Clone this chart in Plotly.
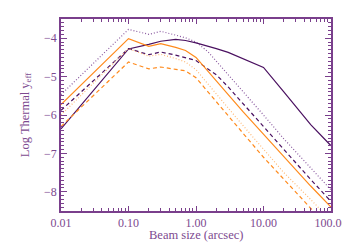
import plotly.graph_objects as go

beam = [0.01, 0.1, 0.2, 0.3, 0.5, 0.7, 1.0, 1.5, 2, 3, 5, 10, 20, 50, 100]

purple_solid = [-6.36, -4.28, -4.16, -4.08, -4.03, -4.06, -4.12, -4.2, -4.27, -4.37, -4.53, -4.76, -5.4, -6.25, -6.8]
purple_dotted = [-5.47, -3.77, -3.9, -3.82, -3.92, -3.99, -4.1, -4.35, -4.6, -4.95, -5.4, -6.0, -6.62, -7.38, -7.95]
purple_dashed = [-5.88, -4.27, -4.43, -4.36, -4.44, -4.5, -4.58, -4.8, -4.95, -5.27, -5.71, -6.3, -6.92, -7.68, -8.25]
orange_solid = [-5.73, -4.01, -4.21, -4.14, -4.24, -4.32, -4.5, -4.85, -5.12, -5.47, -5.92, -6.5, -7.1, -7.85, -8.4]
peach_dotted = [-6.0, -4.27, -4.47, -4.42, -4.53, -4.62, -4.82, -5.18, -5.45, -5.82, -6.28, -6.9, -7.5, -8.2, -8.75]
orange_dashed = [-6.3, -4.62, -4.8, -4.75, -4.81, -4.85, -5.03, -5.4, -5.65, -6.02, -6.48, -7.1, -7.68, -8.44, -9.0]

x_tickvals = [0.01, 0.1, 1, 10, 100]
x_ticktext = ["0.01", "0.10", "1.00", "10.00", "100.00"]
y_tickvals = [-8, -7, -6, -5, -4]
y_ticktext = ["\u22128", "\u22127", "\u22126", "\u22125", "\u22124"]
x_title = "Beam size (arcsec)"
y_title = "Log Thermal y<sub>eff</sub>"

AX = "#7a3f8c"
TXT = "#7d4a90"
DARK = "#4a1060"
LPURP = "#8a5aa0"
ORANGE = "#ff8a1c"
PEACH = "#ffbb7a"

series = [
    (purple_dotted, LPURP, "1px,2px"),
    (purple_solid, DARK, "solid"),
    (purple_dashed, DARK, "4px,3px"),
    (orange_solid, ORANGE, "solid"),
    (peach_dotted, PEACH, "1px,2px"),
    (orange_dashed, ORANGE, "4px,3px"),
]

fig = go.Figure()
for ys, col, dash in series:
    fig.add_trace(go.Scatter(x=beam, y=ys, mode="lines",
                             line=dict(color=col, width=1.2, dash=dash),
                             showlegend=False, hoverinfo="skip"))

font = dict(family="Liberation Serif, DejaVu Serif, serif", size=12.5, color=TXT)
tfont = dict(family="Liberation Serif, DejaVu Serif, serif", size=12, color=TXT)

# page body has an 8px default margin; figure sized so page is exactly 350x250
fig.update_layout(
    width=334, height=234,
    margin=dict(l=53, r=11, t=11, b=31, autoexpand=False),
    paper_bgcolor="white", plot_bgcolor="white",
    font=font,
    showlegend=False,
)
fig.add_annotation(text=x_title, xref="paper", yref="paper", x=0.5, y=-0.125,
                   xanchor="center", yanchor="middle", showarrow=False, font=font)
fig.update_xaxes(
    type="log", range=[-2, 2], automargin=False,
    tickvals=x_tickvals, ticktext=x_ticktext,
    ticks="inside", ticklen=5, tickcolor=AX, tickwidth=1,
    showline=True, linecolor=AX, linewidth=1.5, mirror="allticks",
    showgrid=False, zeroline=False,
    minor=dict(ticks="inside", ticklen=3, tickcolor=AX, dtick="D1", showgrid=False),
    tickfont=tfont,
    ticklabeloverflow="allow",
)
fig.update_yaxes(
    range=[-8.5, -3.5], automargin=False,
    tickvals=y_tickvals, ticktext=y_ticktext,
    ticks="inside", ticklen=6, tickcolor=AX, tickwidth=1,
    showline=True, linecolor=AX, linewidth=1.5, mirror="allticks",
    showgrid=False, zeroline=False,
    minor=dict(ticks="inside", ticklen=3, tickcolor=AX, dtick=0.1, showgrid=False),
    title=dict(text=y_title, standoff=12, font=font),
    tickfont=tfont,
    ticklabeloverflow="allow",
)

fig.write_html("out.html")
